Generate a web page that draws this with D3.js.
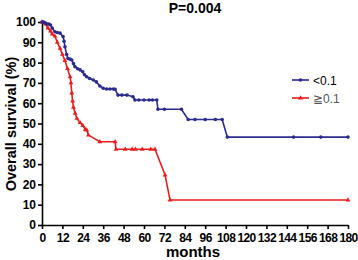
<!DOCTYPE html>
<html><head><meta charset="utf-8">
<script src="https://cdn.jsdelivr.net/npm/d3@7"></script>
<style>body{margin:0;background:#fff}svg{display:block}text{font-family:"Liberation Sans",Arial,sans-serif}</style>
</head><body>
<script>
const title = "P=0.004";
const xTicks = [0,12,24,36,48,60,72,84,96,108,120,132,144,156,168,180];
const yTicks = [0,10,20,30,40,50,60,70,80,90,100];
const seriesNames = ["<0.1","\u22670.1"];
const lowMonths = [0,1,2,3,4,5,6,7.6,9,10.6,12.4,13,13.5,14.5,15.3,16.5,17.5,18.5,19.4,21,22.4,24,25,26.3,28,30.2,32,34,36,38,40,42,43,44.7,47,50,53.5,54.7,57,60,63,65,67.5,68.2,72,82,86,90,96,102,106,109,148,164,180];
const lowSurv =   [100,100,99.5,99,99,98.5,97,95.2,94.8,94.5,92.8,90.5,87.8,84,82,81.7,81.3,79.5,78,77,76.4,75.5,74,73,72.2,71.4,70.5,68.5,67.4,67,67,67,66.9,64,64,64,63.2,61.6,61.6,61.6,61.6,61.6,61.6,57,57,57,52,52,52,52,52,43.3,43.3,43.3,43.3];
const highMonths = [0,2,3.5,5,6,7.6,9,10.6,12,13.5,15,16.5,17,17.5,18,18.5,19.5,20.5,22.4,24,25.5,26.3,27.3,34,43,43.5,49,53,55,59,64,66.5,72.4,75.3,180];
const highSurv =   [100,99,97,95.5,94,93,90,87,84,81,77,73,70,65,61,58,55,52.5,50.4,49,47,46.8,44.3,41,41,37.3,37.3,37.3,37.3,37.3,37.3,37.3,24.6,12.3,12.3];

const W=358,H=260;
const svg=d3.select("body").append("svg").attr("width",W).attr("height",H);
const x=d3.scaleLinear().domain([0,180]).range([42,348]);
const y=d3.scaleLinear().domain([0,100]).range([225,22]);
const colors=["#2b2b8f","#ee1c1c"];

// axes
const gx=svg.append("g").attr("transform","translate(0,225)")
  .call(d3.axisBottom(x).tickValues(xTicks).tickSize(4).tickSizeOuter(0).tickPadding(4));
const gy=svg.append("g").attr("transform","translate(42,0)")
  .call(d3.axisLeft(y).tickValues(yTicks).tickSize(4).tickSizeOuter(0).tickPadding(2));
[gx,gy].forEach(g=>{
  g.selectAll("path,line").attr("stroke","#000").attr("stroke-width",1.6);
  g.selectAll("text").attr("font-size",12).attr("font-weight","bold").attr("fill","#000")
   .attr("font-family",'"Liberation Sans",Arial,sans-serif');
});
gx.selectAll("text").attr("letter-spacing","-0.6");

const line=d3.line().x(d=>x(d[0])).y(d=>y(d[1]));
const data=[d3.zip(lowMonths,lowSurv),d3.zip(highMonths,highSurv)];

// red first (behind) then blue
[1,0].forEach(i=>{
  svg.append("path").datum(data[i]).attr("d",line).attr("fill","none")
    .attr("stroke",colors[i]).attr("stroke-width",1.6);
  if(i===0){
    svg.append("g").selectAll("circle").data(data[i]).join("circle")
      .attr("cx",d=>x(d[0])).attr("cy",d=>y(d[1])).attr("r",1.8).attr("fill",colors[i]);
  } else {
    svg.append("g").selectAll("path").data(data[i]).join("path")
      .attr("d",d3.symbol(d3.symbolTriangle,10))
      .attr("transform",d=>`translate(${x(d[0])},${y(d[1])})`).attr("fill",colors[i]);
  }
});

// legend
seriesNames.forEach((n,i)=>{
  const ly=80+i*18;
  svg.append("line").attr("x1",292).attr("x2",309).attr("y1",ly).attr("y2",ly)
    .attr("stroke",colors[i]).attr("stroke-width",1.6);
  if(i===0) svg.append("circle").attr("cx",300.5).attr("cy",ly).attr("r",1.8).attr("fill",colors[i]);
  else svg.append("path").attr("d",d3.symbol(d3.symbolTriangle,10)).attr("transform",`translate(300.5,${ly})`).attr("fill",colors[i]);
  svg.append("text").attr("x",313).attr("y",ly+4.5).attr("font-size",12).attr("fill",i===1?"#555":"#000").text(n);
});

svg.append("text").attr("x",195).attr("y",13).attr("text-anchor","middle")
  .attr("font-size",14).attr("font-weight","bold").text(title);
svg.append("text").attr("x",193).attr("y",257).attr("text-anchor","middle")
  .attr("font-size",15).attr("font-weight","bold").text("months");
svg.append("text").attr("transform","translate(16,124) rotate(-90)").attr("text-anchor","middle")
  .attr("font-size",14.5).attr("font-weight","bold").text("Overall survival (%)");
</script>
</body></html>
